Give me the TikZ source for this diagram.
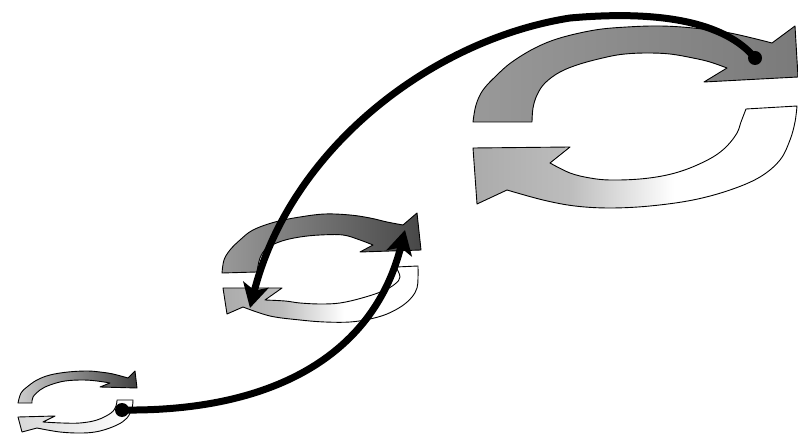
\documentclass[tikz,border=0pt]{standalone}
\usetikzlibrary{arrows.meta}
\pgfdeclarehorizontalshading{lowfade}{100bp}{color(0bp)=(black!33); color(25bp)=(black!33); color(40bp)=(black!26); color(56bp)=(white); color(100bp)=(white)}
\begin{document}
\begin{tikzpicture}[x=1pt,y=-1pt,
  arr/.style={draw=black, line width=0.9pt, line join=round},
  conn/.style={draw=black, line width=7pt, line cap=round},
  dotnode/.style={circle, fill=black, inner sep=0pt, minimum size=14pt},
  tip/.style={-{Stealth[length=24pt, width=26pt, inset=6pt]}}]
\useasboundingbox[fill=white] (0,0) rectangle (798,438);

% ---------- large cycle ----------
\path[arr, left color=black!40, right color=black!52]
  (473,122) -- plot[smooth, tension=0.6] coordinates {(473,122) (476,105) (483,90) (497,75) (512,62) (535,48) (560,38) (595,30) (627,27) (660,26) (693,28) (730,33) (772,43)}
  -- (795,26) -- (798,77) -- (704,82)
  -- plot[smooth, tension=0.6] coordinates {(727,68) (710,62) (693,58) (670,54) (647,53) (625,54) (607,57) (580,64) (560,72) (545,83) (537,95) (533,108) (532,122)}
  -- cycle;
\path[arr, shading=lowfade]
  (570,147) -- (473,148) -- (477,204) -- (507,190)
  -- plot[smooth, tension=0.6] coordinates {(507,190) (543,200) (575,206) (610,208) (650,206) (693,200) (730,190) (760,177) (780,160) (790,140) (795,122) (797,106)}
  -- (746,109)
  -- plot[smooth, tension=0.6] coordinates {(746,109) (741,122) (737,133) (727,146) (713,157) (690,168) (667,175) (640,179) (610,180) (590,178) (570,173) (550,163)}
  -- cycle;

% ---------- medium cycle ----------
\path[arr, left color=black!40, right color=black!72]
  (222,273) -- plot[smooth, tension=0.6] coordinates {(222,273) (224,260) (230,250) (240,240) (253,230) (275,222) (300,217) (325,214) (350,215) (370,218) (387,222) (403,225)}
  -- (417,213) -- (421,250) -- (360,252)
  -- plot[smooth, tension=0.6] coordinates {(373,245) (360,240) (343,235) (320,235) (300,237) (282,241) (267,248) (260,258) (257,272)}
  -- cycle;
\path[arr, shading=lowfade]
  (282,288) -- (223,288) -- (227,314) -- (243,307)
  -- plot[smooth, tension=0.6] coordinates {(243,307) (270,316) (300,320) (325,322) (350,322) (370,319) (387,314) (402,306) (412,297) (417,288) (418,278) (418,266)}
  -- (396,267)
  -- plot[smooth, tension=0.6] coordinates {(396,267) (400,277) (395,284) (383,291) (362,298) (340,303) (320,304) (300,303) (285,301) (265,300)}
  -- cycle;

% ---------- small cycle ----------
\path[arr, left color=black!20, right color=black!75]
  (18,403) -- plot[smooth, tension=0.6] coordinates {(18,403) (21,393) (27,387) (37,380) (50,375) (68,372) (87,371) (100,372) (113,374) (128,378)}
  -- (135,371) -- (137,388) -- (100,387)
  -- plot[smooth, tension=0.6] coordinates {(110,383) (97,381) (83,380) (65,381) (50,385) (40,390) (33,397) (32,403)}
  -- cycle;
\path[arr, left color=black!15, middle color=white, right color=white]
  (55,416) -- (18,417) -- (22,432) -- (37,428)
  -- plot[smooth, tension=0.6] coordinates {(37,428) (60,432) (83,433) (100,431) (117,425) (127,418) (132,408) (133,400)}
  -- (117,400)
  -- plot[smooth, tension=0.6] coordinates {(117,400) (116,406) (111,413) (97,420) (80,423) (62,423) (43,422)}
  -- cycle;

% ---------- connectors ----------
\node[dotnode] (ds) at (122,410) {};
\node[dotnode] (dl) at (755,58) {};
\coordinate (ms) at (405,230);
\coordinate (ml) at (250,308);
\coordinate (top) at (570,18);

\draw[conn, tip] (ds.center) .. controls (280,412) and (375,350) .. (ms);
\draw[conn, tip] (dl.center) .. controls (725,22) and (660,10) .. (top)
  .. controls (430,40) and (290,150) .. (ml);
\end{tikzpicture}
\end{document}
